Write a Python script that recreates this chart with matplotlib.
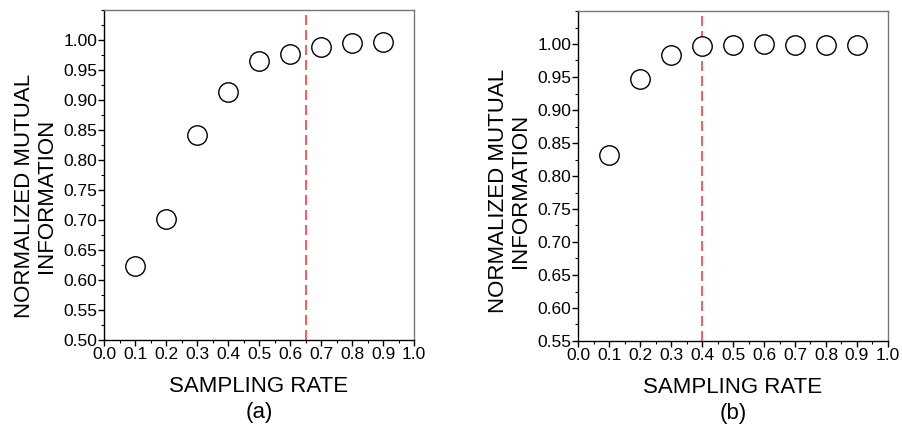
import numpy as np
import matplotlib
matplotlib.use("Agg")
import matplotlib.pyplot as plt
from matplotlib.ticker import MultipleLocator, FormatStrFormatter

plt.rcParams["font.family"] = ["Liberation Sans", "DejaVu Sans"]

# sampling rates and normalized mutual information
rates = [0.1, 0.2, 0.3, 0.4, 0.5, 0.6, 0.7, 0.8, 0.9]
nmi_a = [0.623, 0.702, 0.842, 0.914, 0.965, 0.977, 0.989, 0.995, 0.997]
nmi_b = [0.832, 0.947, 0.983, 0.997, 0.998, 1.000, 0.999, 0.999, 0.998]
cut_a = 0.65
cut_b = 0.4
ylims = [(0.50, 1.05), (0.55, 1.05)]
panel_tags = ["(a)", "(b)"]

fig = plt.figure(figsize=(9.02, 4.28), dpi=100)
W, H = 902, 428
boxes = [(104, 10, 414, 340), (578, 11, 888, 341)]
ylab_y = [0.436, 0.455]

for (x0, y0, x1, y1), nmi, cut, yl, tag, ly in zip(boxes, [nmi_a, nmi_b], [cut_a, cut_b],
                                                   ylims, panel_tags, ylab_y):
    ax = fig.add_axes([x0 / W, 1 - y1 / H, (x1 - x0) / W, (y1 - y0) / H])
    ax.plot(rates, nmi, "o", ms=14, mfc="white", mec="black", mew=1.0, zorder=3)
    ax.axvline(cut, color="#e8474a", lw=1.2, ls=(0, (6, 3)), zorder=2)

    ax.set_xlim(0, 1.0)
    ax.set_ylim(*yl)
    ax.xaxis.set_major_locator(MultipleLocator(0.1))
    ax.xaxis.set_minor_locator(MultipleLocator(0.05))
    ax.yaxis.set_major_locator(MultipleLocator(0.05))
    ax.yaxis.set_minor_locator(MultipleLocator(0.025))
    ax.xaxis.set_major_formatter(FormatStrFormatter("%.1f"))
    ax.yaxis.set_major_formatter(FormatStrFormatter("%.2f"))
    # no label at the 1.05 top edge
    labels = ax.get_yticks()
    ax.set_yticks([t for t in labels if t <= 1.0001 and t >= yl[0] - 1e-6])

    ax.tick_params(which="major", direction="out", length=4, width=1, labelsize=12.5, pad=1)
    ax.tick_params(which="minor", direction="out", length=2.5, width=0.8)
    ax.tick_params(top=False, right=False, which="both")

    for s in ["left", "bottom"]:
        ax.spines[s].set_color("black")
        ax.spines[s].set_linewidth(1.0)
    for s in ["top", "right"]:
        ax.spines[s].set_color("#777777")
        ax.spines[s].set_linewidth(1.0)

    ax.set_xlabel("SAMPLING RATE\n" + tag, fontsize=16, linespacing=1.35, labelpad=10)
    ax.set_ylabel("NORMALIZED MUTUAL\nINFORMATION", fontsize=16, linespacing=1.05)
    ax.yaxis.set_label_coords(-0.153, ly)

fig.savefig("out.png", dpi=100)
